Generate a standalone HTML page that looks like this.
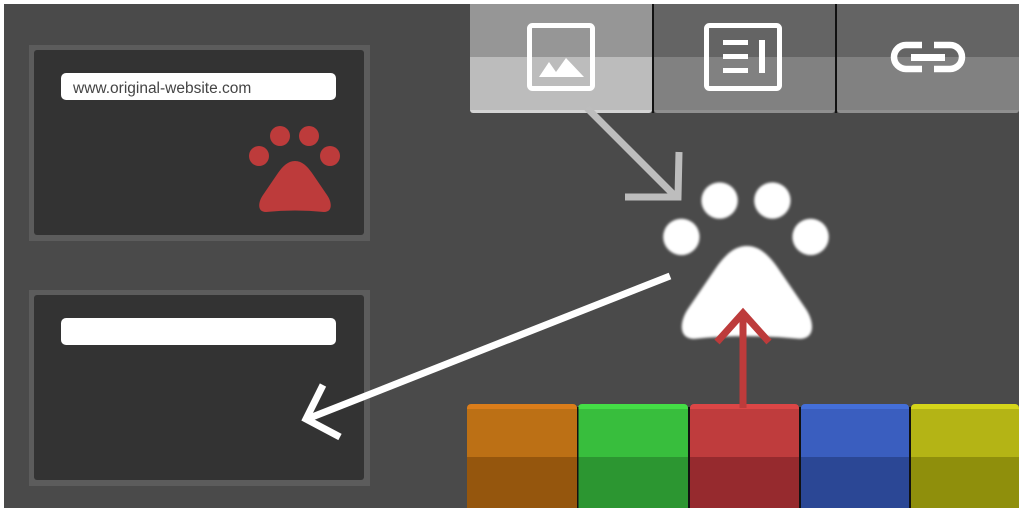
<!DOCTYPE html>
<html><head><style>
html,body{margin:0;padding:0;background:#fff;}
svg{display:block;}
</style></head><body>
<svg width="1024" height="512" viewBox="0 0 1024 512" xmlns="http://www.w3.org/2000/svg">
<defs>
<g id="paw">
<circle cx="280" cy="136" r="10"/>
<circle cx="309" cy="136" r="10"/>
<circle cx="259" cy="156" r="10"/>
<circle cx="330" cy="156" r="10"/>
<path d="M295,161 C288,161 283,166 278,173 L263,195 C258,202 257,212 266,212 Q295,209 324,212 C333,212 332,202 327,195 L312,173 C307,166 302,161 295,161 Z"/>
</g>
<filter id="bl"><feGaussianBlur stdDeviation="0.8"/></filter>
</defs>
<rect x="4" y="4" width="1015" height="504" fill="#4a4a4a"/>
<!-- cards -->
<rect x="29" y="45" width="341" height="196" fill="#5c5c5c"/>
<rect x="34" y="50" width="330" height="185" rx="3" fill="#333"/>
<rect x="61" y="73" width="275" height="27" rx="5" fill="#fff"/>
<text x="73" y="93" font-family="Liberation Sans, sans-serif" font-size="15.5" fill="#444">www.original-website.com</text>
<use href="#paw" fill="#bd3b3b"/>
<rect x="29" y="290" width="341" height="196" fill="#5c5c5c"/>
<rect x="34" y="295" width="330" height="185" rx="3" fill="#333"/>
<rect x="61" y="318" width="275" height="27" rx="5" fill="#fff"/>
<!-- top buttons -->
<path d="M470,4 H652 V110 a3,3 0 0 1 -3,3 H473 a3,3 0 0 1 -3,-3 Z" fill="#d4d4d4"/>
<rect x="470" y="4" width="182" height="53" fill="#969696"/>
<rect x="470" y="57" width="182" height="53" fill="#bcbcbc"/>
<path d="M654,4 H835 V110 a3,3 0 0 1 -3,3 H657 a3,3 0 0 1 -3,-3 Z" fill="#8f8f8f"/>
<rect x="654" y="4" width="181" height="53" fill="#646464"/>
<rect x="654" y="57" width="181" height="53" fill="#818181"/>
<path d="M837,4 H1019 V110 a3,3 0 0 1 -3,3 H840 a3,3 0 0 1 -3,-3 Z" fill="#8f8f8f"/>
<rect x="837" y="4" width="182" height="53" fill="#646464"/>
<rect x="837" y="57" width="182" height="53" fill="#818181"/>
<rect x="652" y="4" width="2" height="109" fill="#111"/>
<rect x="835" y="4" width="2" height="109" fill="#111"/>
<!-- icons -->
<rect x="529.5" y="25.5" width="63" height="63" rx="3" fill="none" stroke="#fff" stroke-width="5"/>
<polygon points="539,77 549,62 556,72 566,58 584,77" fill="#fff"/>
<rect x="706.5" y="25.5" width="73" height="63" rx="3" fill="none" stroke="#fff" stroke-width="5"/>
<rect x="723" y="40" width="25" height="5" fill="#fff"/>
<rect x="723" y="54" width="25" height="5" fill="#fff"/>
<rect x="723" y="68" width="25" height="5" fill="#fff"/>
<rect x="759" y="40" width="6" height="33" fill="#fff"/>
<path d="M922,45 H906 a12,12 0 0 0 0,24 H922 M934,45 H950 a12,12 0 0 1 0,24 H934" fill="none" stroke="#fff" stroke-width="6.5"/>
<rect x="911" y="54" width="34" height="7" fill="#fff"/>
<!-- bottom color buttons -->
<g>
<path d="M467,408 a4,4 0 0 1 4,-4 H573 a4,4 0 0 1 4,4 V508 H467 Z" fill="#db7d1a"/>
<rect x="467" y="409" width="110" height="48" fill="#bc7015"/><rect x="467" y="457" width="110" height="51" fill="#95560d"/>
<path d="M578,408 a4,4 0 0 1 4,-4 H684 a4,4 0 0 1 4,4 V508 H578 Z" fill="#44de46"/>
<rect x="578" y="409" width="110" height="48" fill="#38be3d"/><rect x="578" y="457" width="110" height="51" fill="#2c9631"/>
<path d="M690,408 a4,4 0 0 1 4,-4 H795 a4,4 0 0 1 4,4 V508 H690 Z" fill="#dc4646"/>
<rect x="690" y="409" width="109" height="48" fill="#bf3c3d"/><rect x="690" y="457" width="109" height="51" fill="#962a2e"/>
<path d="M801,408 a4,4 0 0 1 4,-4 H905 a4,4 0 0 1 4,4 V508 H801 Z" fill="#446fd9"/>
<rect x="801" y="409" width="108" height="48" fill="#3a5ebf"/><rect x="801" y="457" width="108" height="51" fill="#2b4795"/>
<path d="M911,408 a4,4 0 0 1 4,-4 H1015 a4,4 0 0 1 4,4 V508 H911 Z" fill="#d5d51a"/>
<rect x="911" y="409" width="108" height="48" fill="#b4b415"/><rect x="911" y="457" width="108" height="51" fill="#8f8f0c"/>
<rect x="577" y="407" width="1.5" height="101" fill="#111"/>
<rect x="688" y="407" width="2" height="101" fill="#111"/>
<rect x="799" y="407" width="2" height="101" fill="#111"/>
<rect x="909" y="407" width="2" height="101" fill="#111"/>
</g>
<!-- big paw -->
<g transform="translate(210,-47) scale(1.82)" fill="#fff" filter="url(#bl)"><use href="#paw"/></g>
<!-- arrows -->
<g stroke="#bdbdbd" stroke-width="7" fill="none">
<line x1="587" y1="108" x2="676" y2="197"/>
<polyline points="625,197 678,197 679,152" stroke-linejoin="miter"/>
</g>
<g stroke="#fff" stroke-width="7" fill="none">
<line x1="670" y1="276" x2="307" y2="419"/>
<polyline points="323,385 306,419 340,437"/>
</g>
<g stroke="#bd3b3b" stroke-width="7" fill="none">
<line x1="743" y1="408" x2="743" y2="316"/>
<polyline points="717,342 743,313 769,342"/>
</g>
</svg>
</body></html>
